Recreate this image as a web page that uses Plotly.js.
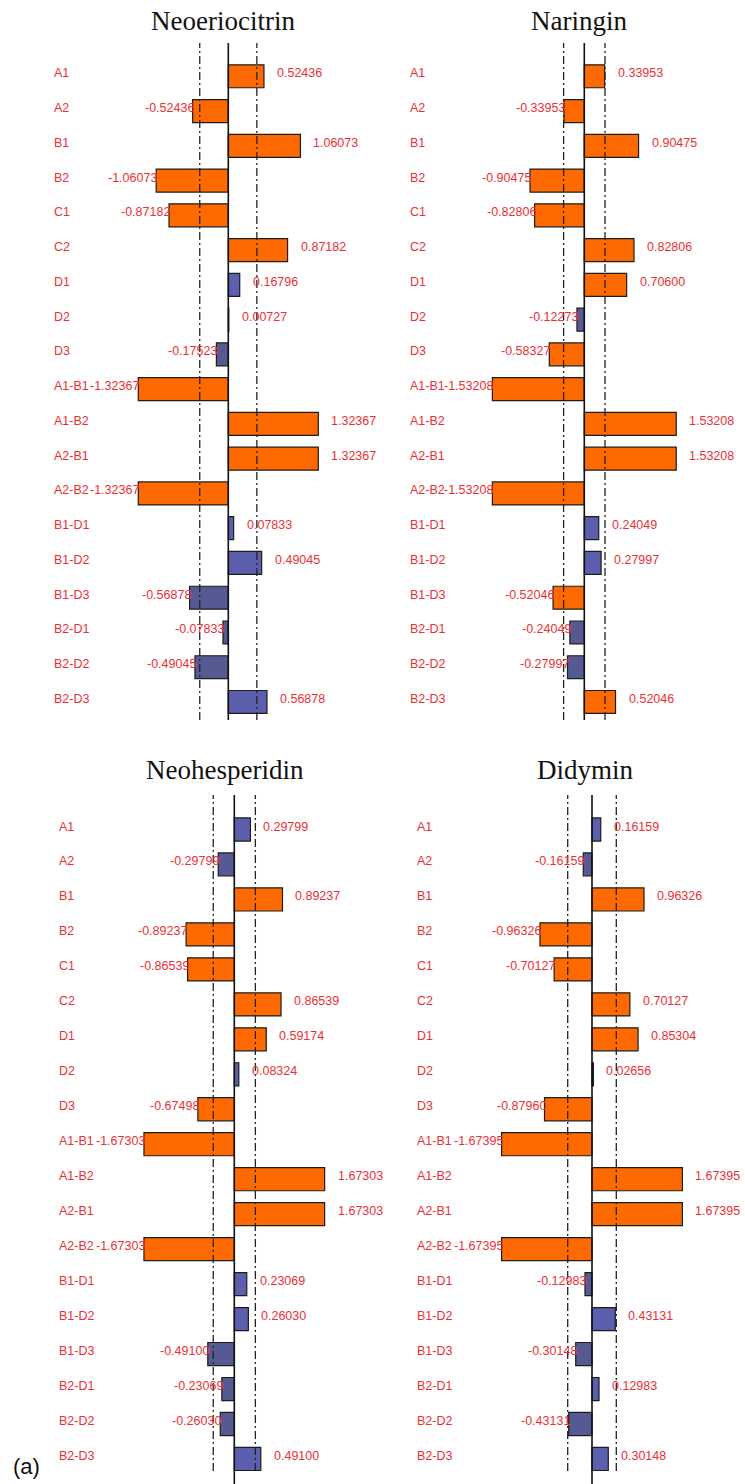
<!DOCTYPE html>
<html>
<head>
<meta charset="utf-8">
<script src="https://cdn.plot.ly/plotly-3.0.1.min.js"></script>
<style>html,body{margin:0;padding:0;background:#fff;}#chart{width:745px;height:1484px;}</style>
</head>
<body>
<div id="chart"></div>
<script>
// ---------------- DATA ----------------
const categories = ["A1","A2","B1","B2","C1","C2","D1","D2","D3",
  "A1-B1","A1-B2","A2-B1","A2-B2","B1-D1","B1-D2","B1-D3","B2-D1","B2-D2","B2-D3"];

const panelTitles = ["Neoeriocitrin","Naringin","Neohesperidin","Didymin"];

const neoeriocitrin = [0.52436,-0.52436,1.06073,-1.06073,-0.87182,0.87182,0.16796,0.00727,-0.17523,
  -1.32367,1.32367,1.32367,-1.32367,0.07833,0.49045,-0.56878,-0.07833,-0.49045,0.56878];
const naringin = [0.33953,-0.33953,0.90475,-0.90475,-0.82806,0.82806,0.70600,-0.12273,-0.58327,
  -1.53208,1.53208,1.53208,-1.53208,0.24049,0.27997,-0.52046,-0.24049,-0.27997,0.52046];
const neohesperidin = [0.29799,-0.29799,0.89237,-0.89237,-0.86539,0.86539,0.59174,0.08324,-0.67498,
  -1.67303,1.67303,1.67303,-1.67303,0.23069,0.26030,-0.49100,-0.23069,-0.26030,0.49100];
const didymin = [0.16159,-0.16159,0.96326,-0.96326,-0.70127,0.70127,0.85304,0.02656,-0.87960,
  -1.67395,1.67395,1.67395,-1.67395,-0.12983,0.43131,-0.30148,0.12983,-0.43131,0.30148];

// bar class: O = orange, B = blue
const neoeriocitrinClass = ["O","O","O","O","O","O","B","B","B","O","O","O","O","B","B","B","B","B","B"];
const naringinClass      = ["O","O","O","O","O","O","O","B","O","O","O","O","O","B","B","O","B","B","O"];
const neohesperidinClass = ["B","B","O","O","O","O","O","B","O","O","O","O","O","B","B","B","B","B","B"];
const didyminClass       = ["B","B","O","O","O","O","O","B","O","O","O","O","O","B","B","B","B","B","B"];

// dashed reference limits (effect units)
const neoeriocitrinLimits = [-0.42, 0.42];
const naringinLimits      = [-0.345, 0.345];
const neohesperidinLimits = [-0.39, 0.39];
const didyminLimits       = [-0.45, 0.45];

// ---------------- LAYOUT HELPERS ----------------
const W = 745, H = 1484;
const ORANGE = "#ff6a00", BLUE_POS = "#5b5fae", BLUE_NEG = "#565a92";
const RED = "#ec2f36";
const LBL_FONT = "Liberation Sans, Arial, sans-serif";

const panels = [
  {values: neoeriocitrin, cls: neoeriocitrinClass, limits: neoeriocitrinLimits,
   px: [40, 380], zero: 228.3, scale: 68, labelX: 53, top: 43, bottom: 720, first: 76.3, step: 34.76, titleX: 223, titleY: 20.5, dashEnd: 720},
  {values: naringin, cls: naringinClass, limits: naringinLimits,
   px: [390, 745], zero: 584.3, scale: 60, labelX: 409, top: 43, bottom: 720, first: 76.3, step: 34.76, titleX: 579, titleY: 20.5, dashEnd: 720},
  {values: neohesperidin, cls: neohesperidinClass, limits: neohesperidinLimits,
   px: [40, 380], zero: 234.3, scale: 54, labelX: 58, top: 795, bottom: 1484, first: 829.5, step: 34.97, titleX: 225, titleY: 770, dashEnd: 1471},
  {values: didymin, cls: didyminClass, limits: didyminLimits,
   px: [390, 745], zero: 592, scale: 54, labelX: 416, top: 795, bottom: 1484, first: 829.5, step: 34.97, titleX: 585, titleY: 770, dashEnd: 1471}
];

const traces = [];
const annotations = [];
const shapes = [];
const layout = {
  width: W, height: H,
  margin: {l: 0, r: 0, t: 0, b: 0},
  paper_bgcolor: "#fff", plot_bgcolor: "#fff",
  showlegend: false,
  font: {family: LBL_FONT, size: 12, color: RED}
};

panels.forEach((p, i) => {
  const n = i + 1;
  const xa = n === 1 ? "x" : "x" + n;
  const ya = n === 1 ? "y" : "y" + n;
  const xKey = n === 1 ? "xaxis" : "xaxis" + n;
  const yKey = n === 1 ? "yaxis" : "yaxis" + n;

  const r0 = -(p.zero - p.px[0]) / p.scale;
  const r1 = (p.px[1] - p.zero) / p.scale;
  layout[xKey] = {
    domain: [p.px[0] / W, p.px[1] / W], range: [r0, r1], anchor: ya,
    showgrid: false, zeroline: false, showticklabels: false, showline: false, ticks: "", fixedrange: true
  };
  const yTopIdx = (p.top - p.first) / p.step;
  const yBotIdx = (p.bottom - p.first) / p.step;
  layout[yKey] = {
    domain: [1 - p.bottom / H, 1 - p.top / H], type: "category", categoryorder: "array",
    categoryarray: categories, range: [yBotIdx, yTopIdx], anchor: xa,
    showgrid: false, zeroline: false, showticklabels: false, showline: false, ticks: "", fixedrange: true
  };

  traces.push({
    type: "bar", orientation: "h", x: p.values, y: categories, xaxis: xa, yaxis: ya,
    width: 0.66, hoverinfo: "none",
    marker: {
      color: p.values.map((v, k) => p.cls[k] === "O" ? ORANGE : (v >= 0 ? BLUE_POS : BLUE_NEG)),
      line: {color: "#1c1c1c", width: 1.2}
    }
  });

  // zero line
  shapes.push({type: "line", xref: xa, yref: ya + " domain", x0: 0, x1: 0, y0: 0, y1: 1,
    line: {color: "#111", width: 1.6}, layer: "above"});
  // dashed limits
  const dy0 = (p.bottom - p.dashEnd) / (p.bottom - p.top);
  p.limits.forEach(L => {
    shapes.push({type: "line", xref: xa, yref: ya + " domain", x0: L, x1: L, y0: dy0, y1: 1,
      line: {color: "#222", width: 1.3, dash: "8px,3px,2px,3px"}, layer: "above"});
  });

  // category labels
  categories.forEach(c => {
    annotations.push({xref: "paper", yref: ya, x: p.labelX / W, y: c, text: c, showarrow: false,
      xanchor: "left", yanchor: "middle", yshift: 3, borderpad: 0,
      font: {family: LBL_FONT, size: 12.5, color: RED}});
  });
  // value labels
  p.values.forEach((v, k) => {
    annotations.push({xref: xa, yref: ya, x: v, y: categories[k], text: v.toFixed(5), showarrow: false,
      xanchor: v >= 0 ? "left" : "right", xshift: v >= 0 ? 12 : 2, yanchor: "middle", yshift: 3, borderpad: 0,
      font: {family: LBL_FONT, size: 12.5, color: RED}});
  });

  // title
  annotations.push({xref: "paper", yref: "paper", x: p.titleX / W, y: 1 - p.titleY / H,
    text: panelTitles[i], showarrow: false, xanchor: "center", yanchor: "middle", borderpad: 0,
    font: {family: "Liberation Serif, Times New Roman, serif", size: 27, color: "#111"}});
});

// panel tag
annotations.push({xref: "paper", yref: "paper", x: 12 / W, y: 1 - 1466 / H, text: "(a)", showarrow: false,
  xanchor: "left", yanchor: "middle", borderpad: 0,
  font: {family: LBL_FONT, size: 22, color: "#111"}});

layout.annotations = annotations;
layout.shapes = shapes;

Plotly.newPlot("chart", traces, layout, {displayModeBar: false, staticPlot: true});
</script>
</body>
</html>
